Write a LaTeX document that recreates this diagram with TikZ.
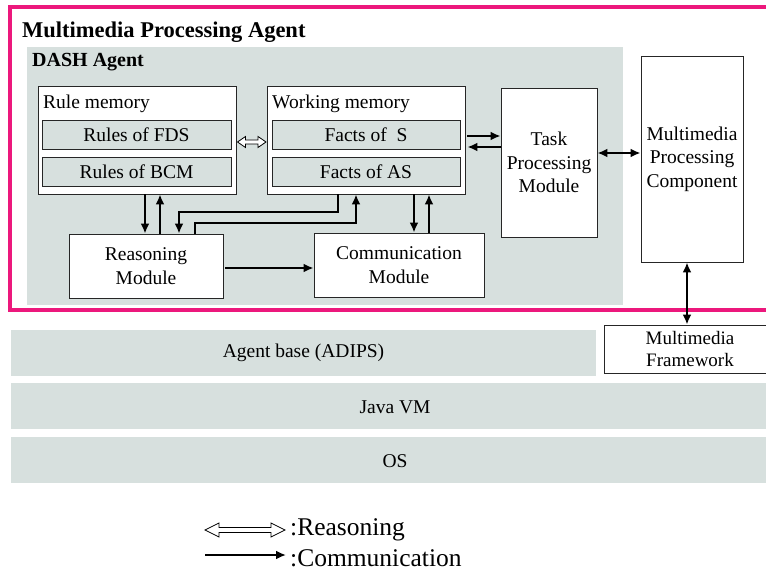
\documentclass[tikz,border=0pt]{standalone}
\usepackage{fontspec}
\setmainfont{Liberation Serif}
\usetikzlibrary{arrows.meta}
\definecolor{agentpink}{RGB}{236,24,124}
\definecolor{panel}{RGB}{215,224,222}

% hollow double-headed arrow: {x1}{x2}{y}{head length}{head half height}{shaft half height}
\newcommand\hollowdblarrow[6]{%
  \draw[black, line width=0.8pt, fill=white]
    (#1,#3) -- (#1+#4,#3-#5) -- (#1+#4,#3-#6) -- (#2-#4,#3-#6) -- (#2-#4,#3-#5)
    -- (#2,#3) -- (#2-#4,#3+#5) -- (#2-#4,#3+#6) -- (#1+#4,#3+#6) -- (#1+#4,#3+#5) -- cycle;}

\begin{document}
\begin{tikzpicture}[x=1pt,y=-1pt,
  box/.style={draw=black!85, line width=0.9pt, fill=white, inner sep=0pt, align=center,
              font=\fontsize{19.5}{23.5}\selectfont},
  slot/.style={draw=black!85, line width=0.9pt, fill=panel, inner sep=0pt,
              font=\fontsize{19.5}{22}\selectfont},
  layer/.style={fill=panel, inner sep=0pt, font=\fontsize{19.5}{22}\selectfont},
  comm/.style={line width=2.5pt, -{Latex[length=10pt,width=9pt]}},
  commboth/.style={line width=2.5pt, {Latex[length=10pt,width=9pt]}-{Latex[length=10pt,width=9pt]}},
  title/.style={anchor=west, inner sep=0pt, font=\bfseries\fontsize{#1}{#1}\selectfont},
  label/.style={anchor=west, inner sep=0pt, font=\fontsize{19.5}{22}\selectfont}]
\useasboundingbox (0,0) rectangle (766,572);
\fill[white] (0,0) rectangle (766,572);

% DASH agent panel
\fill[panel] (27,47) rectangle (623,305);
\node[title=20] (dashlbl) at (32,62) {DASH Agent};

% memories
\node[box, minimum width=198pt, minimum height=108pt] (rulemem) at (137,140) {};
\node[label] (rulelbl) at (43,104) {Rule memory};
\node[slot, minimum width=189pt, minimum height=29pt] (fds) at (136.5,134.5) {Rules of FDS};
\node[slot, minimum width=189pt, minimum height=29pt] (bcm) at (136.5,171.5) {Rules of BCM};

\node[box, minimum width=198pt, minimum height=108pt] (workmem) at (366,140) {};
\node[label] (worklbl) at (272,104) {Working memory};
\node[slot, minimum width=188pt, minimum height=29pt] (factS) at (366,134.5) {Facts of \ S};
\node[slot, minimum width=188pt, minimum height=29pt] (factAS) at (366,171.5) {Facts of AS};

% modules
\node[box, minimum width=96pt, minimum height=149pt] (task) at (549,162.5) {Task\\Processing\\Module};
\node[box, minimum width=102pt, minimum height=206pt] (mpc) at (692,159) {Multimedia\\Processing\\Component};
\node[box, minimum width=154pt, minimum height=64pt] (reason) at (146,266) {Reasoning\\Module};
\node[box, minimum width=170pt, minimum height=64pt] (commod) at (399,265) {Communication\\Module};

% outer agent frame
\draw[agentpink, line width=4pt] (10,7) rectangle (790,310);
\node[title=22.5] (agentlbl) at (22,32) {Multimedia Processing Agent};

% lower layers
\node[layer, minimum width=585pt, minimum height=46pt] (base) at (303.5,353) {Agent base (ADIPS)};
\node[layer, minimum width=770pt, minimum height=46pt] (jvm) at (396,406) {};
\node[layer, minimum width=770pt, minimum height=46pt] (os) at (396,460) {};
\node[label, anchor=center] (jvmlbl) at (395,407) {Java VM};
\node[label, anchor=center] (oslbl) at (395,461) {OS};
\node[box, minimum width=172pt, minimum height=48pt, font=\fontsize{19}{22}\selectfont] (mmf) at (690,349) {Multimedia\\Framework};

% column / row helpers for connectors
\coordinate (x145) at (145,0);
\coordinate (x160) at (160,0);
\coordinate (x179) at (179,0);
\coordinate (x195) at (195,0);
\coordinate (x338) at (338,0);
\coordinate (x356) at (356,0);
\coordinate (x414) at (414,0);
\coordinate (x429) at (429,0);
\coordinate (x687) at (687,0);
\coordinate (y136) at (0,136);
\coordinate (y147) at (0,147);
\coordinate (y153) at (0,153);
\coordinate (y268) at (0,268);
\coordinate (j1) at (179,212);
\coordinate (j2) at (195,223);

% reasoning link between the memories
\hollowdblarrow{237.5}{266}{142}{8}{5.5}{2}

% communication links
\draw[comm] (rulemem.south -| x145) -- (reason.north -| x145);
\draw[comm] (reason.north -| x160) -- (rulemem.south -| x160);
\draw[comm] (workmem.south -| x338) |- (j1) -- (reason.north -| x179);
\draw[comm] (reason.north -| x195) -- (j2) -| (workmem.south -| x356);
\draw[comm] (workmem.south -| x414) -- (commod.north -| x414);
\draw[comm] (commod.north -| x429) -- (workmem.south -| x429);
\draw[comm] ([xshift=2pt]reason.east |- y268) -- (commod.west |- y268);
\draw[comm] ([xshift=2pt]workmem.east |- y136) -- (task.west |- y136);
\draw[comm] (task.west |- y147) -- ([xshift=2pt]workmem.east |- y147);
\draw[commboth] (task.east |- y153) -- (mpc.west |- y153);
\draw[commboth] (mpc.south -| x687) -- (mmf.north -| x687);

% legend
\hollowdblarrow{205}{285}{530}{14}{7}{2.5}
\coordinate (lgA) at (205,555);
\coordinate (lgB) at (286,555);
\draw[comm] (lgA) -- (lgB);
\node[label, font=\fontsize{25.5}{25.5}\selectfont] (lgreason) at (290,530) {:Reasoning};
\node[label, font=\fontsize{25.5}{25.5}\selectfont] (lgcomm) at (290,558) {:Communication};
\end{tikzpicture}
\end{document}
